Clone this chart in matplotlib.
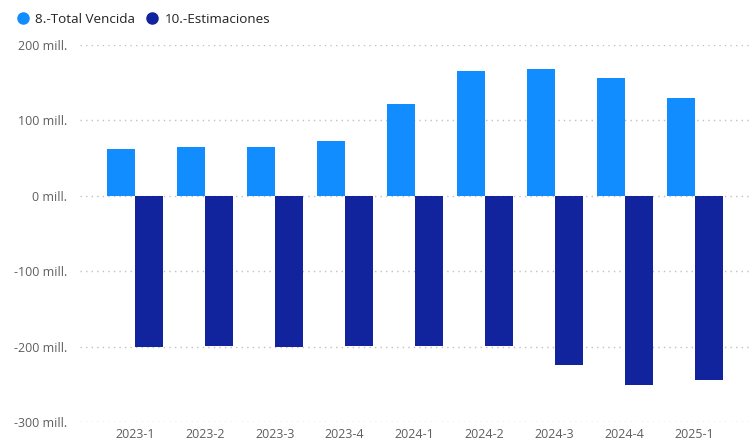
import numpy as np
import matplotlib.pyplot as plt
from matplotlib.lines import Line2D

# %% Data (millions)
periods = ["2023-1", "2023-2", "2023-3", "2023-4", "2024-1", "2024-2", "2024-3", "2024-4", "2025-1"]
total_vencida = [62, 65, 65, 72, 121, 166, 168, 156, 130]
estimaciones = [-201, -199, -201, -199, -199, -199, -225, -251, -245]

light_blue = "#118DFF"
dark_blue = "#12239E"
text_grey = "#605E5C"

plt.rcParams["font.family"] = ["Open Sans", "DejaVu Sans"]

# %% Plot
fig = plt.figure(figsize=(7.52, 4.40), dpi=100)
ax = fig.add_axes([0.106, 0.041, 0.891, 0.857])

x = np.arange(len(periods))
w = 0.4
ax.bar(x - w / 2, total_vencida, width=w, color=light_blue, zorder=3)
ax.bar(x + w / 2, estimaciones, width=w, color=dark_blue, zorder=3)

ax.set_xlim(-0.786, len(periods) - 1 + 0.786)
ax.set_ylim(-300, 200)
yticks = [-300, -200, -100, 0, 100, 200]
ax.set_yticks(yticks)
ax.set_yticklabels([f"{v} mill." for v in yticks], fontsize=9, color=text_grey)
ax.set_xticks(x)
ax.set_xticklabels(periods, fontsize=9, color=text_grey)
ax.tick_params(axis="both", length=0)
ax.tick_params(axis="y", pad=9)
ax.tick_params(axis="x", pad=4)

ax.grid(axis="y", color="#C2C0BE", linestyle=(0, (1, 3)), linewidth=1, zorder=0)
for s in ax.spines.values():
    s.set_visible(False)

# legend
handles = [
    Line2D([0], [0], marker="o", linestyle="", markersize=8, color=light_blue),
    Line2D([0], [0], marker="o", linestyle="", markersize=8, color=dark_blue),
]
fig.legend(handles, ["8.-Total Vencida", "10.-Estimaciones"], loc="upper left",
           bbox_to_anchor=(-0.004, 0.998), ncol=2, frameon=False, fontsize=9.7,
           handletextpad=-0.1, columnspacing=0.3, labelcolor="#252423")

plt.savefig("out.png", dpi=100)
